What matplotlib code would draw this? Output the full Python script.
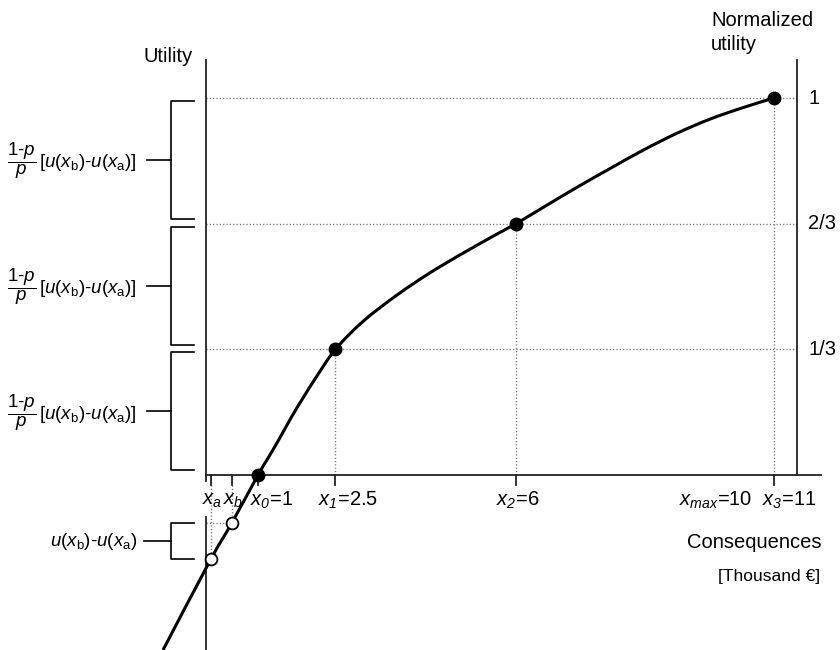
import matplotlib.pyplot as plt
from matplotlib.path import Path
from matplotlib.patches import PathPatch

plt.rcParams['font.family'] = ['Liberation Sans', 'DejaVu Sans']
plt.rcParams['mathtext.fontset'] = 'custom'
plt.rcParams['mathtext.rm'] = 'Liberation Sans'
plt.rcParams['mathtext.it'] = 'Liberation Sans:italic'
plt.rcParams['mathtext.bf'] = 'Liberation Sans:bold'
# sf is used for italic digits in the subscripts
plt.rcParams['mathtext.sf'] = 'Liberation Sans:italic'

# utility curve (consequences in thousand €, normalized utility)
curve_x = [-0.84, 0.083, 0.49, 1.0, 1.20, 1.43, 1.65, 1.88, 2.14, 2.5,
           3.04, 3.69, 4.33, 4.98, 5.63, 6.0, 6.53, 7.18, 7.85, 8.47,
           9.11, 9.76, 10.41, 11.0]
curve_u = [-0.464, -0.224, -0.128, 0.0, 0.046, 0.100, 0.154, 0.206, 0.262, 0.3333,
           0.408, 0.477, 0.536, 0.589, 0.639, 0.6667, 0.710, 0.763, 0.815, 0.862,
           0.906, 0.944, 0.975, 1.0]

# elicited points x0..x3
pts_x = [1.0, 2.5, 6.0, 11.0]
pts_u = [0.0, 1/3, 2/3, 1.0]
pts_lab = [r'$x_{\mathsf{0}}$=1', r'$x_{\mathsf{1}}$=2.5',
           r'$x_{\mathsf{2}}$=6', r'$x_{\mathsf{3}}$=11']

# reference outcomes xa, xb
ref_x = [0.083, 0.49]
ref_u = [-0.224, -0.128]
ref_lab = [r'$x_a$', r'$x_b$']

x_max = 10
level_lab = ['1/3', '2/3', '1']

# pixel -> data helpers (figure is 840x650, axes fill the figure)
def dx(p):
    return (p - 206.4) / 51.6

def dy(p):
    return (475 - p) / 377

fig = plt.figure(figsize=(8.4, 6.5), dpi=100)
ax = fig.add_axes([0, 0, 1, 1])
ax.set_xlim(dx(0), dx(840))
ax.set_ylim(dy(650), dy(0))
ax.axis('off')

axc = '#222222'
dot = dict(color='#6a6a6a', lw=1.0, linestyle=(0, (0.8, 1.6)), zorder=1)

# axes
ax.plot([0, 0], [dy(60), dy(481)], color=axc, lw=1.3)
ax.plot([0, 0], [dy(517), dy(650)], color=axc, lw=1.3)
ax.plot([0, dx(821)], [0, 0], color=axc, lw=1.3)
ax.plot([dx(797), dx(797)], [dy(60), 0], color=axc, lw=1.3)

# ticks
for xv in ref_x + pts_x:
    ax.plot([xv, xv], [0, dy(485)], color=axc, lw=1.3)

# dotted guides
for u in pts_u[1:]:
    ax.plot([0, dx(797)], [u, u], **dot)
for xv, u in zip(pts_x[1:], pts_u[1:]):
    ax.plot([xv, xv], [0, u], **dot)
for xv, u in zip(ref_x, ref_u):
    ax.plot([xv, xv], [0, u], **dot)
ax.plot([0, ref_x[1]], [ref_u[1], ref_u[1]], **dot)

# smooth curve: Bezier path through the read points (Catmull-Rom handles)
P = list(zip(curve_x, curve_u))
verts = [P[0]]
codes = [Path.MOVETO]
for i in range(len(P) - 1):
    p0 = P[max(i - 1, 0)]
    p1, p2 = P[i], P[i + 1]
    p3 = P[min(i + 2, len(P) - 1)]
    c1 = (p1[0] + (p2[0] - p0[0]) / 6, p1[1] + (p2[1] - p0[1]) / 6)
    c2 = (p2[0] - (p3[0] - p1[0]) / 6, p2[1] - (p3[1] - p1[1]) / 6)
    verts += [c1, c2, p2]
    codes += [Path.CURVE4] * 3
ax.add_patch(PathPatch(Path(verts, codes), fill=False, edgecolor='black', lw=2.2, zorder=3))

ax.plot(pts_x, pts_u, 'o', ms=9, color='black', zorder=4)
ax.plot(ref_x, ref_u, 'o', ms=8.5, mfc='white', mec='black', mew=1.3, zorder=4)

# brackets
def bracket(lo, hi, stub):
    xi, xm = dx(194), dx(171)
    ax.plot([xi, xm, xm, xi], [hi, hi, lo, lo], color='black', lw=1.2)
    ax.plot([dx(stub), xm], [(lo + hi) / 2] * 2, color='black', lw=1.2)

lab_br = r'$\dfrac{1\text{-}p}{p}\,[u(x_\mathrm{b})\text{-}u(x_\mathrm{a})]$'
for lo, hi in zip(pts_u[:-1], pts_u[1:]):
    bracket(lo + 0.012, hi - 0.008, 147)
    ax.text(dx(137), (lo + hi) / 2, lab_br, ha='right', va='center', fontsize=13.5)

bracket(ref_u[0], ref_u[1], 144)
ax.text(dx(137), (ref_u[0] + ref_u[1]) / 2, r'$u(x_\mathrm{b})\text{-}u(x_\mathrm{a})$',
        ha='right', va='center', fontsize=13.5)

# tick labels
for xv, lab in zip(ref_x, ref_lab):
    ax.text(xv + 0.02, dy(500), lab, ha='center', va='center', fontsize=14.5)
for left, lab in zip([250, 318, 496, 762], pts_lab):
    ax.text(dx(left), dy(500), lab, ha='left', va='center', fontsize=14.5)
ax.text(dx(679), dy(500), r'$x_{max}$=' + str(x_max), ha='left', va='center', fontsize=14.5)

# level labels on the right axis
for u, lab in zip(pts_u[1:], level_lab):
    ax.text(dx(808), u, lab, ha='left', va='center', fontsize=14.5)

ax.text(dx(168), dy(56), 'Utility', ha='center', va='center', fontsize=14.5)
ax.text(dx(711), dy(21), 'Normalized', ha='left', va='center', fontsize=14.5)
ax.text(dx(711), dy(44), 'utility', ha='left', va='center', fontsize=14.5)
ax.text(dx(821), dy(543), 'Consequences', ha='right', va='center', fontsize=14.5)
ax.text(dx(820), dy(576), '[Thousand €]', ha='right', va='center', fontsize=12.5)

fig.savefig('out.png', dpi=100)
